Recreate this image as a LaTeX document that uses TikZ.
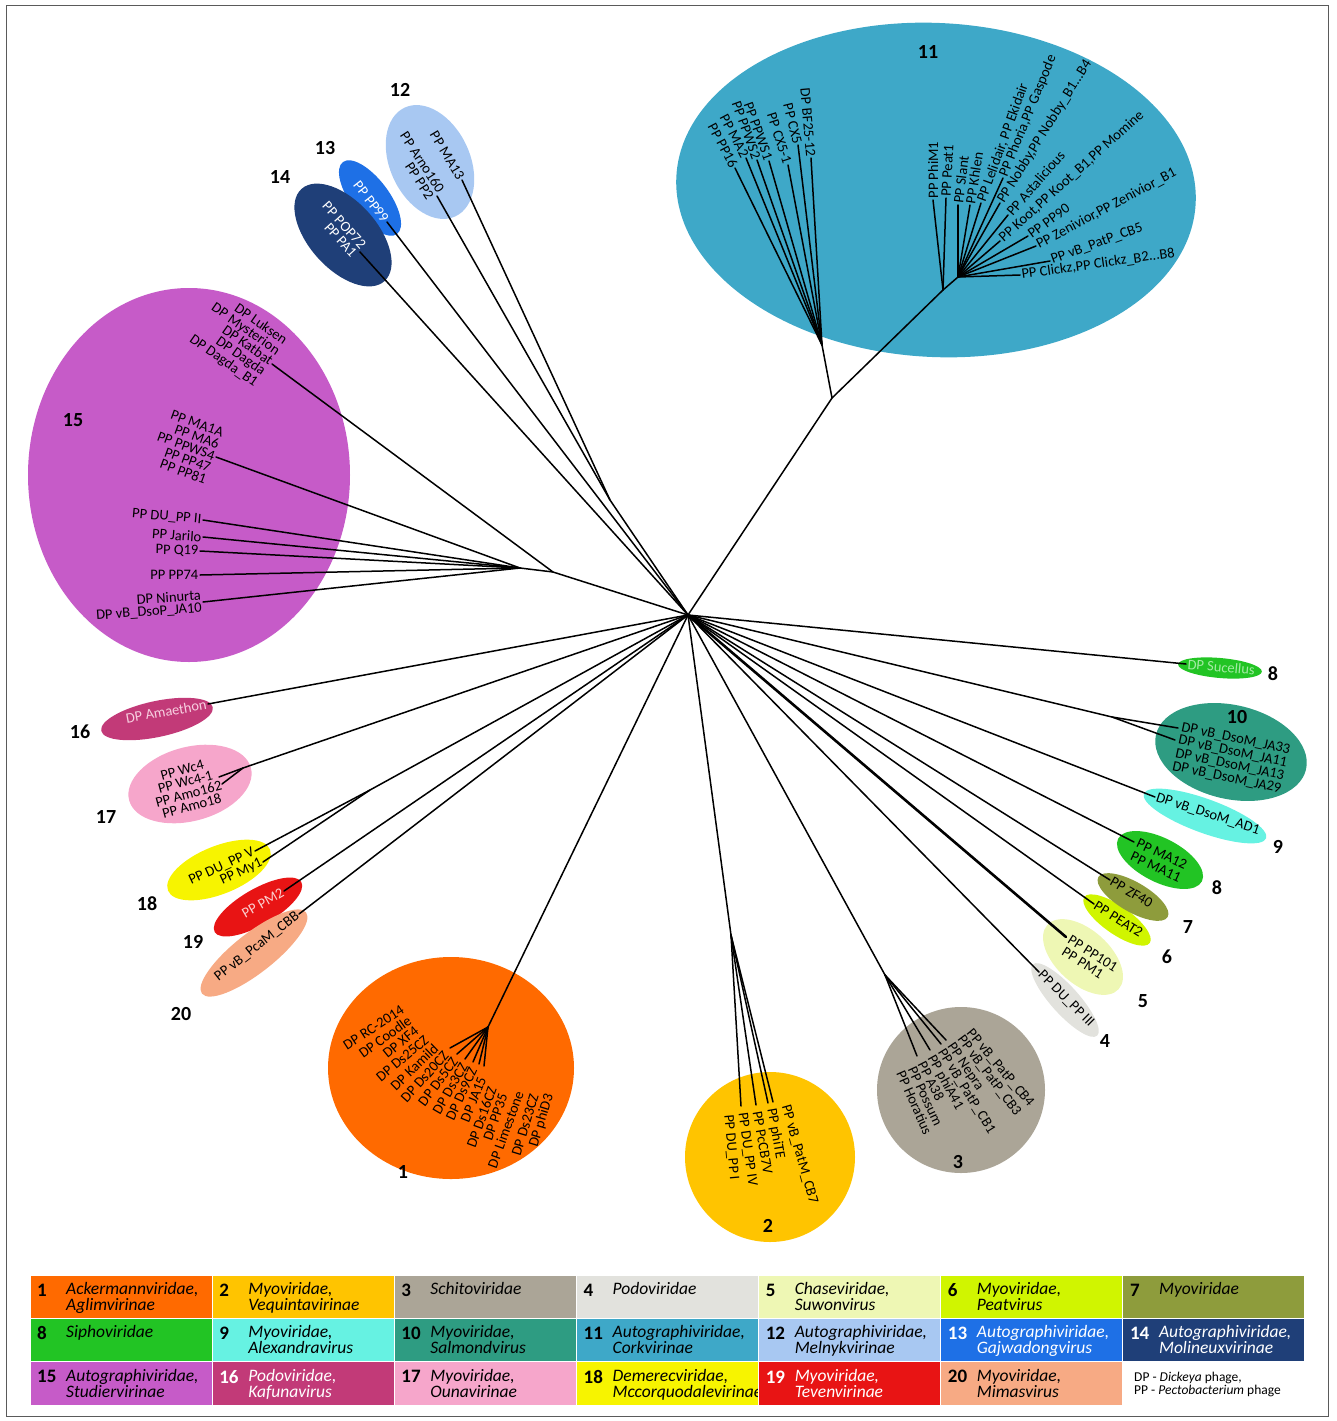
\documentclass[tikz,border=0pt]{standalone}
\usepackage{fontspec}
\setmainfont{Carlito}
\definecolor{c1}{HTML}{FF6A00}
\definecolor{c2}{HTML}{FFC400}
\definecolor{c3}{HTML}{ABA597}
\definecolor{c4}{HTML}{E2E2DD}
\definecolor{c5}{HTML}{EEF7B4}
\definecolor{c6}{HTML}{D0F500}
\definecolor{c7}{HTML}{8E9C3C}
\definecolor{c8}{HTML}{22C424}
\definecolor{c9}{HTML}{66F2E2}
\definecolor{c10}{HTML}{2E9C82}
\definecolor{c11}{HTML}{3EA8C8}
\definecolor{c12}{HTML}{A8C8F2}
\definecolor{c13}{HTML}{1E70E6}
\definecolor{c14}{HTML}{1F3F78}
\definecolor{c15}{HTML}{C65BC8}
\definecolor{c16}{HTML}{C23A78}
\definecolor{c17}{HTML}{F6A6CB}
\definecolor{c18}{HTML}{F7F400}
\definecolor{c19}{HTML}{E81414}
\definecolor{c20}{HTML}{F7AA84}
\definecolor{tx16}{HTML}{F7CFE0}
\definecolor{tx19}{HTML}{FAD0D0}
\definecolor{tx8}{HTML}{A5EBA5}
\definecolor{frm}{HTML}{5A5A5A}
\newcommand{\lgcell}[6]{%
  \begin{scope}
  \clip ({30+#1*182.14},{1275+#2*43.4}) rectangle ++(182.14,43.4);
  \fill[#3] ({30+#1*182.14},{1275+#2*43.4}) rectangle ++(182.14,43.4);
  \node[lgnum,text=#6] (lgn#4) at ({37+#1*182.14},{1290+#2*43.4}) {#4};
  \node[lgtxt,text=#6] (lgt#4) at ({66+#1*182.14},{1282+#2*43.4}) {#5};
  \end{scope}
  \draw[white,line width=1.2pt] ({30+#1*182.14},{1275+#2*43.4}) rectangle ++(182.14,43.4);
}
\begin{document}
\begin{tikzpicture}[x=1pt,y=-1pt,
  br/.style={line width=1.5pt,line cap=round,line join=round},
  lb/.style={font=\fontsize{14.5}{12.5}\selectfont,inner sep=1.5pt},
  cn/.style={font=\bfseries\fontsize{20}{20}\selectfont,inner sep=0pt},
  lgnum/.style={font=\bfseries\fontsize{19}{19}\selectfont,anchor=west,inner sep=0pt},
  lgtxt/.style={font=\itshape\fontsize{17.5}{16}\selectfont,align=left,anchor=north west,inner sep=0pt}]
\useasboundingbox (0,0) rectangle (1336,1421);
\draw[frm,line width=1pt] (6,6) rectangle (1328,1416);

% ---------- cluster shapes ----------
\fill[c11,rotate around={-3:(936,190)}] (936,190) ellipse [x radius=260,y radius=167];
\fill[c12,rotate around={-65:(430,162)}] (430,162) ellipse [x radius=60,y radius=40];
\fill[c13,rotate around={-53:(370,198)}] (370,198) ellipse [x radius=45,y radius=19];
\fill[c14,rotate around={-48:(343,235)}] (343,235) ellipse [x radius=62,y radius=34];
\fill[c15] (189,475) ellipse [x radius=161,y radius=187];
\fill[c16,rotate around={12:(157,719)}] (157,719) ellipse [x radius=57,y radius=18];
\fill[c17,rotate around={15:(190,784)}] (190,784) ellipse [x radius=63,y radius=37];
\fill[c18,rotate around={22:(219,870)}] (219,870) ellipse [x radius=55,y radius=24];
\fill[c19,rotate around={30:(258,907)}] (258,907) ellipse [x radius=50,y radius=18];
\fill[c20,rotate around={38:(254,953)}] (254,953) ellipse [x radius=66,y radius=20];
\fill[c1] (451,1068) ellipse [x radius=123,y radius=111];
\fill[c2] (770,1157) ellipse [x radius=85,y radius=85];
\fill[c3] (961,1090) ellipse [x radius=84,y radius=83];
\fill[c4,rotate around={-48:(1065,1000)}] (1065,1000) ellipse [x radius=48,y radius=14];
\fill[c5,rotate around={-42:(1083,957)}] (1083,957) ellipse [x radius=48,y radius=27];
\fill[c6,rotate around={-35:(1117,920)}] (1117,920) ellipse [x radius=40,y radius=14];
\fill[c7,rotate around={-30:(1133,897)}] (1133,897) ellipse [x radius=40,y radius=15];
\fill[c8,rotate around={-27:(1160,860)}] (1160,860) ellipse [x radius=47,y radius=22];
\fill[c9,rotate around={-20:(1205,816)}] (1205,816) ellipse [x radius=65,y radius=17];
\fill[c10,rotate around={-13:(1231,752)}] (1231,752) ellipse [x radius=77,y radius=47];
\fill[c8,rotate around={-5:(1220,668)}] (1220,668) ellipse [x radius=42,y radius=10];

% ---------- coordinates ----------
\coordinate (H) at (688,615);
\coordinate (A11) at (832,398);
\coordinate (L11) at (822,345);
\coordinate (R11a) at (943,290);
\coordinate (R11) at (958,277);
\coordinate (pPP16) at (735,168);
\coordinate (pMA2) at (746,158);
\coordinate (pWS2) at (757,160);
\coordinate (pWS1) at (769,161);
\coordinate (pCX51) at (788,165);
\coordinate (pCX5) at (798,145);
\coordinate (pBF) at (811,158);
\coordinate (pPhi) at (933,200);
\coordinate (pPeat) at (946,198);
\coordinate (pSlant) at (958,205);
\coordinate (pKhlen) at (970,205);
\coordinate (pLel) at (981,203);
\coordinate (pPho) at (1003,178);
\coordinate (pNob) at (1000,203);
\coordinate (pAst) at (1008,215);
\coordinate (pKoot) at (1000,241);
\coordinate (pP90) at (1028,236);
\coordinate (pZen) at (1036,246);
\coordinate (pCB5) at (1050,261);
\coordinate (pClk) at (1020,275);
\coordinate (N12) at (610,500);
\coordinate (pMA13) at (462,180);
\coordinate (pArno) at (437,196);
\coordinate (p13) at (387,222);
\coordinate (p14) at (360,252);
\coordinate (N15) at (553,572);
\coordinate (N15b) at (520,568);
\coordinate (pDP) at (272,364);
\coordinate (pMA) at (216,457);
\coordinate (pDU) at (203,520);
\coordinate (pJar) at (203,537);
\coordinate (pQ19) at (200,551);
\coordinate (pP74) at (200,575);
\coordinate (pNin) at (203,602);
\coordinate (p16) at (208,704);
\coordinate (N17) at (243,768);
\coordinate (p17a) at (219,777);
\coordinate (p17b) at (222,784);
\coordinate (N18) at (370,790);
\coordinate (p18a) at (255,851);
\coordinate (p18b) at (263,862);
\coordinate (p19) at (284,891);
\coordinate (p20) at (299,914);
\coordinate (N1) at (488,1027);
\coordinate (f1) at (450,1048);
\coordinate (f2) at (457,1054);
\coordinate (f3) at (465,1059);
\coordinate (f4) at (473,1062);
\coordinate (f5) at (479,1064);
\coordinate (f6) at (484,1066);
\coordinate (N2) at (731,935);
\coordinate (q2a) at (741,1106);
\coordinate (q2b) at (756,1105);
\coordinate (q2c) at (768,1103);
\coordinate (q2d) at (773,1102);
\coordinate (N3) at (885,975);
\coordinate (q3a) at (917,1056);
\coordinate (q3b) at (930,1050);
\coordinate (q3c) at (941,1044);
\coordinate (q3d) at (946,1040);
\coordinate (p4) at (1039,972);
\coordinate (p5) at (1066,937);
\coordinate (p6) at (1094,904);
\coordinate (p7) at (1110,880);
\coordinate (p8b) at (1134,842);
\coordinate (p9) at (1155,797);
\coordinate (N10) at (1112,717);
\coordinate (p10a) at (1178,728);
\coordinate (p10b) at (1175,740);
\coordinate (p8a) at (1186,664);

% ---------- branches ----------
\draw[br] (H) -- (A11) -- (L11);
\draw[br] (A11) -- (R11a) -- (R11);
\foreach \t in {pPP16,pMA2,pWS2,pWS1,pCX51,pCX5,pBF} \draw[br] (L11) -- (\t);
\foreach \t in {pPhi,pPeat} \draw[br] (R11a) -- (\t);
\foreach \t in {pSlant,pKhlen,pLel,pPho,pNob,pAst,pKoot,pP90,pZen,pCB5,pClk} \draw[br] (R11) -- (\t);
\draw[br] (H) -- (N12) -- (pMA13);
\draw[br] (N12) -- (pArno);
\draw[br] (H) -- (p13);
\draw[br] (H) -- (p14);
\draw[br] (H) -- (N15) -- (pDP);
\draw[br] (N15) -- (N15b) -- (pMA);
\foreach \t in {pDU,pJar,pQ19,pP74,pNin} \draw[br] (N15b) -- (\t);
\draw[br] (H) -- (p16);
\draw[br] (H) -- (N17) -- (p17a);
\draw[br] (N17) -- (p17b);
\draw[br] (H) -- (N18) -- (p18a);
\draw[br] (N18) -- (p18b);
\draw[br] (H) -- (p19);
\draw[br] (H) -- (p20);
\draw[br] (H) -- (N1);
\foreach \t in {f1,f2,f3,f4,f5,f6} \draw[br] (N1) -- (\t);
\draw[br] (H) -- (N2);
\foreach \t in {q2a,q2b,q2c,q2d} \draw[br] (N2) -- (\t);
\draw[br] (H) -- (N3);
\foreach \t in {q3a,q3b,q3c,q3d} \draw[br] (N3) -- (\t);
\draw[br] (H) -- (p4);
\draw[br,line width=2.6pt] (H) -- (p5);
\draw[br] (H) -- (p6);
\draw[br] (H) -- (p7);
\draw[br] (H) -- (p8b);
\draw[br] (H) -- (p9);
\draw[br] (H) -- (N10) -- (p10a);
\draw[br] (N10) -- (p10b);
\draw[br] (H) -- (p8a);

% ---------- leaf labels ----------
% 11 left
\node[lb,rotate=-62,anchor=east] (nPP16) at (pPP16) {PP PP16};
\node[lb,rotate=-62,anchor=east] (nMA2) at (pMA2) {PP MA2};
\node[lb,rotate=-70,anchor=east] (nWS2) at (pWS2) {PP PPWS2};
\node[lb,rotate=-70,anchor=east] (nWS1) at (pWS1) {PP PPWS1};
\node[lb,rotate=-72,anchor=east] (nCX51) at (pCX51) {PP CX5-1};
\node[lb,rotate=-76,anchor=east] (nCX5) at (pCX5) {PP CX5};
\node[lb,rotate=-85,anchor=east] (nBF) at (pBF) {DP BF25-12};
% 11 right
\node[lb,rotate=90,anchor=west] (nPhi) at (pPhi) {PP PhiM1};
\node[lb,rotate=87,anchor=west] (nPeat) at (pPeat) {PP Peat1};
\node[lb,rotate=83,anchor=west] (nSlant) at (pSlant) {PP Slant};
\node[lb,rotate=81,anchor=west] (nKhlen) at (pKhlen) {PP Khlen};
\node[lb,rotate=70,anchor=west] (nLel) at (pLel) {PP Lelidair, PP Ekidair};
\node[lb,rotate=68,anchor=west] (nPho) at (pPho) {PP Phoria,PP Gaspode};
\node[lb,rotate=58,anchor=west] (nNob) at (pNob) {PP Nobby,PP Nobby\_B1...B4};
\node[lb,rotate=49,anchor=west] (nAst) at (pAst) {PP Astalicious};
\node[lb,rotate=42,anchor=west] (nKoot) at (pKoot) {PP Koot,PP Koot\_B1,PP Momine};
\node[lb,rotate=36,anchor=west] (nP90) at (pP90) {PP PP90};
\node[lb,rotate=28,anchor=west] (nZen) at (pZen) {PP Zenivior,PP Zenivior\_B1};
\node[lb,rotate=20,anchor=west] (nCB5) at (pCB5) {PP vB\_PatP\_CB5};
\node[lb,rotate=8,anchor=west] (nClk) at (pClk) {PP Clickz,PP Clickz\_B2...B8};
% 12 13 14
\node[lb,rotate=-59,anchor=east] (nMA13) at (pMA13) {PP MA13};
\node[lb,rotate=-57,anchor=east,align=right] (nArno) at (pArno) {PP Arno160\\PP PP2};
\node[lb,text=white,rotate=-52,anchor=east] (n13) at (p13) {PP PP99};
\node[lb,text=white,rotate=-48,anchor=east,align=right] (n14) at (p14) {PP POP72\\PP PA1};
% 15
\node[lb,rotate=-35,anchor=east,align=right] (nDP) at (pDP) {DP Luksen\\DP Mysterion\\DP Katbat\\DP Dagda\\DP Dagda\_B1};
\node[lb,rotate=-20,anchor=east,align=right] (nMA) at (pMA) {PP MA1A\\PP MA6\\PP PPWS4\\PP PP47\\PP PP81};
\node[lb,rotate=-5,anchor=east] (nDU) at (pDU) {PP DU\_PP II};
\node[lb,rotate=-4,anchor=east] (nJar) at (pJar) {PP Jarilo};
\node[lb,rotate=-1,anchor=east] (nQ19) at (pQ19) {PP Q19};
\node[lb,anchor=east] (nP74) at (pP74) {PP PP74};
\node[lb,rotate=4,anchor=east,align=right] (nNin) at (pNin) {DP Ninurta\\DP vB\_DsoP\_JA10};
% 16-20
\node[lb,text=tx16,rotate=10,anchor=east] (n16) at (p16) {DP Amaethon};
\node[lb,rotate=15,align=center] (n17) at (187,788) {PP Wc4\\PP Wc4-1\\PP Amo162\\PP Amo18};
\node[lb,rotate=25,anchor=east] (n18a) at (p18a) {PP DU\_PP V};
\node[lb,rotate=25,anchor=east] (n18b) at (p18b) {PP My1};
\node[lb,text=tx19,rotate=30,anchor=east] (n19) at (p19) {PP PM2};
\node[lb,rotate=38,anchor=east] (n20) at (p20) {PP vB\_PcaM\_CBB};
% 1
\node[lb,rotate=33,anchor=east] (c1a) at (404,1008) {DP RC-2014};
\node[lb,rotate=36,anchor=east] (c1b) at (411,1018) {DP Coodle};
\node[lb,rotate=39,anchor=east] (c1c) at (418,1028) {DP XF4};
\node[lb,rotate=40,anchor=east] (c1d) at (428,1037) {DP Ds25CZ};
\node[lb,rotate=44,anchor=east] (c1e) at (437,1045) {DP Kamild};
\node[lb,rotate=48,anchor=east] (c1f) at (447,1052) {DP Ds20CZ};
\node[lb,rotate=53,anchor=east] (c1g) at (456,1058) {DP Ds5CZ};
\node[lb,rotate=60,anchor=east] (c1h) at (465,1063) {DP Ds3CZ};
\node[lb,rotate=65,anchor=east] (c1i) at (474,1067) {DP Ds9CZ};
\node[lb,rotate=68,anchor=east] (c1j) at (483,1076) {DP JA15};
\node[lb,rotate=70,anchor=east] (c1k) at (493,1086) {DP Ds16CZ};
\node[lb,rotate=71,anchor=east] (c1l) at (504,1092) {DP PP35};
\node[lb,rotate=70,anchor=east] (c1m) at (520,1090) {DP Limestone};
\node[lb,rotate=73,anchor=east] (c1n) at (535,1093) {DP Ds23CZ};
\node[lb,rotate=73,anchor=east] (c1o) at (550,1093) {DP phiD3};
% 2
\node[lb,rotate=-85,anchor=west] (c2a) at (728,1113) {PP DU\_PP I};
\node[lb,rotate=-82,anchor=west] (c2b) at (742,1111) {PP DU\_PP IV};
\node[lb,rotate=-80,anchor=west] (c2c) at (757,1110) {PP PcCB7V};
\node[lb,rotate=-80,anchor=west] (c2d) at (771,1107) {PP phiTE};
\node[lb,rotate=-74,anchor=west] (c2e) at (785,1104) {PP vB\_PatM\_CB7};
% 3
\node[lb,rotate=-50,anchor=west] (c3a) at (968,1030) {PP vB\_PatP\_CB4};
\node[lb,rotate=-53,anchor=west] (c3b) at (959,1036) {PP vB\_PatP\_CB3};
\node[lb,rotate=-56,anchor=west] (c3c) at (949,1043) {PP Nepra};
\node[lb,rotate=-58,anchor=west] (c3d) at (940,1049) {PP vB\_PatP\_CB1};
\node[lb,rotate=-61,anchor=west] (c3e) at (930,1055) {PP phiA41};
\node[lb,rotate=-63,anchor=west] (c3f) at (921,1061) {PP A38};
\node[lb,rotate=-65,anchor=west] (c3g) at (911,1066) {PP Possum};
\node[lb,rotate=-66,anchor=west] (c3h) at (900,1070) {PP Horatius};
% right side
\node[lb,rotate=-45,anchor=west] (c4a) at (p4) {PP DU\_PP III};
\node[lb,rotate=-32,anchor=west] (c5a) at (1068,938) {PP PP101};
\node[lb,rotate=-32,anchor=west] (c5b) at (1062,950) {PP PM1};
\node[lb,rotate=-32,anchor=west] (c6a) at (p6) {PP PEAT2};
\node[lb,rotate=-30,anchor=west] (c7a) at (p7) {PP ZF40};
\node[lb,rotate=-25,anchor=west] (c8a) at (1136,842) {PP MA12};
\node[lb,rotate=-25,anchor=west] (c8b) at (1130,855) {PP MA11};
\node[lb,rotate=-18,anchor=west] (c9a) at (p9) {DP vB\_DsoM\_AD1};
\node[lb,rotate=-12,anchor=west] (c10a) at (1180,727) {DP vB\_DsoM\_JA33};
\node[lb,rotate=-12,anchor=west] (c10b) at (1177,740) {DP vB\_DsoM\_JA11};
\node[lb,rotate=-12,anchor=west] (c10c) at (1174,753) {DP vB\_DsoM\_JA13};
\node[lb,rotate=-12,anchor=west] (c10d) at (1171,766) {DP vB\_DsoM\_JA29};
\node[lb,text=tx8,rotate=-5,anchor=west] (c8u) at (p8a) {DP Sucellus};

% ---------- cluster numbers ----------
\node[cn] (k11) at (928,52) {11};
\node[cn] (k12) at (400,90) {12};
\node[cn] (k13) at (325,148) {13};
\node[cn] (k14) at (280,177) {14};
\node[cn] (k15) at (73,420) {15};
\node[cn] (k16) at (80,732) {16};
\node[cn] (k17) at (106,817) {17};
\node[cn] (k18) at (147,904) {18};
\node[cn] (k19) at (193,942) {19};
\node[cn] (k20) at (181,1014) {20};
\node[cn] (k1) at (403,1172) {1};
\node[cn] (k2) at (768,1226) {2};
\node[cn] (k3) at (958,1162) {3};
\node[cn] (k4) at (1105,1041) {4};
\node[cn] (k5) at (1143,1001) {5};
\node[cn] (k6) at (1167,957) {6};
\node[cn] (k7) at (1188,927) {7};
\node[cn] (k8b) at (1217,888) {8};
\node[cn] (k9) at (1278,847) {9};
\node[cn] (k10) at (1237,717) {10};
\node[cn] (k8a) at (1273,674) {8};

% ---------- legend ----------
\lgcell{0}{0}{c1}{1}{Ackermannviridae,\\Aglimvirinae}{black}
\lgcell{1}{0}{c2}{2}{Myoviridae,\\Vequintavirinae}{black}
\lgcell{2}{0}{c3}{3}{Schitoviridae}{black}
\lgcell{3}{0}{c4}{4}{Podoviridae}{black}
\lgcell{4}{0}{c5}{5}{Chaseviridae,\\Suwonvirus}{black}
\lgcell{5}{0}{c6}{6}{Myoviridae,\\Peatvirus}{black}
\lgcell{6}{0}{c7}{7}{Myoviridae}{black}
\lgcell{0}{1}{c8}{8}{Siphoviridae}{black}
\lgcell{1}{1}{c9}{9}{Myoviridae,\\Alexandravirus}{black}
\lgcell{2}{1}{c10}{10}{Myoviridae,\\Salmondvirus}{black}
\lgcell{3}{1}{c11}{11}{Autographiviridae,\\Corkvirinae}{black}
\lgcell{4}{1}{c12}{12}{Autographiviridae,\\Melnykvirinae}{black}
\lgcell{5}{1}{c13}{13}{Autographiviridae,\\Gajwadongvirus}{white}
\lgcell{6}{1}{c14}{14}{Autographiviridae,\\Molineuxvirinae}{white}
\lgcell{0}{2}{c15}{15}{Autographiviridae,\\Studiervirinae}{black}
\lgcell{1}{2}{c16}{16}{Podoviridae,\\Kafunavirus}{white}
\lgcell{2}{2}{c17}{17}{Myoviridae,\\Ounavirinae}{black}
\lgcell{3}{2}{c18}{18}{Demerecviridae,\\Mccorquodalevirinae}{black}
\lgcell{4}{2}{c19}{19}{Myoviridae,\\Tevenvirinae}{white}
\lgcell{5}{2}{c20}{20}{Myoviridae,\\Mimasvirus}{black}
\node[font=\fontsize{13.5}{13}\selectfont,align=left,anchor=west,inner sep=0pt] (abbr) at (1134,1384)
  {DP - \textit{Dickeya} phage,\\PP - \textit{Pectobacterium} phage};
\end{tikzpicture}
\end{document}
